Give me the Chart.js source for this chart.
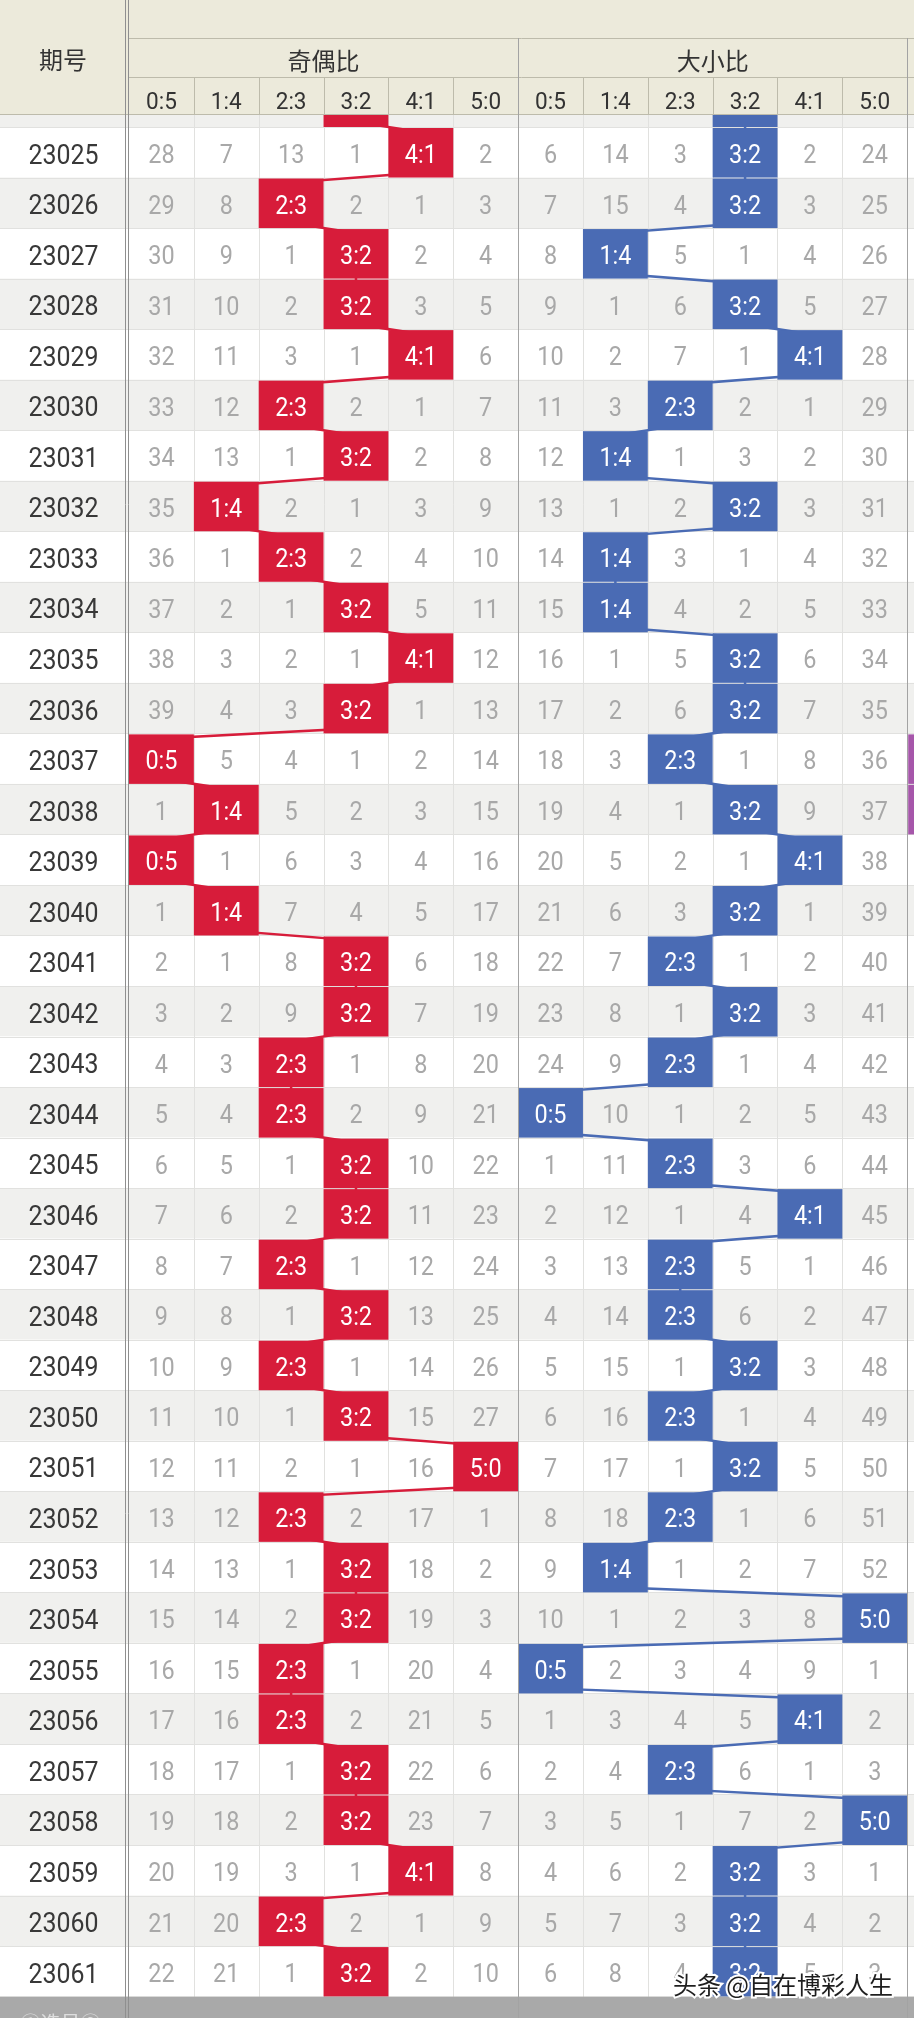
<!DOCTYPE html>
<html>
<head>
<meta charset="utf-8">
<script src="https://cdn.jsdelivr.net/npm/chart.js@4.4.1/dist/chart.umd.min.js"></script>
<style>
  html, body { margin: 0; padding: 0; background: #fff; }
  #wrap { width: 914px; height: 2018px; position: relative; }
</style>
</head>
<body>
<div id="wrap"><canvas id="trend"></canvas></div>
<script>
// ---- data ----
const periods = [
  '23025','23026','23027','23028','23029','23030','23031','23032','23033','23034',
  '23035','23036','23037','23038','23039','23040','23041','23042','23043','23044',
  '23045','23046','23047','23048','23049','23050','23051','23052','23053','23054',
  '23055','23056','23057','23058','23059','23060','23061'
];
const ratioLabels = ['0:5', '1:4', '2:3', '3:2', '4:1', '5:0'];
const groupTitles = ['奇偶比', '大小比'];

// omission counts per row, 0 = hit (cell shows the ratio label)
const oddEvenRows = [
  [28,7,13,1,0,2], [29,8,0,2,1,3], [30,9,1,0,2,4], [31,10,2,0,3,5], [32,11,3,1,0,6],
  [33,12,0,2,1,7], [34,13,1,0,2,8], [35,0,2,1,3,9], [36,1,0,2,4,10], [37,2,1,0,5,11],
  [38,3,2,1,0,12], [39,4,3,0,1,13], [0,5,4,1,2,14], [1,0,5,2,3,15], [0,1,6,3,4,16],
  [1,0,7,4,5,17], [2,1,8,0,6,18], [3,2,9,0,7,19], [4,3,0,1,8,20], [5,4,0,2,9,21],
  [6,5,1,0,10,22], [7,6,2,0,11,23], [8,7,0,1,12,24], [9,8,1,0,13,25], [10,9,0,1,14,26],
  [11,10,1,0,15,27], [12,11,2,1,16,0], [13,12,0,2,17,1], [14,13,1,0,18,2], [15,14,2,0,19,3],
  [16,15,0,1,20,4], [17,16,0,2,21,5], [18,17,1,0,22,6], [19,18,2,0,23,7], [20,19,3,1,0,8],
  [21,20,0,2,1,9], [22,21,1,0,2,10]
];
const bigSmallRows = [
  [6,14,3,0,2,24], [7,15,4,0,3,25], [8,0,5,1,4,26], [9,1,6,0,5,27], [10,2,7,1,0,28],
  [11,3,0,2,1,29], [12,0,1,3,2,30], [13,1,2,0,3,31], [14,0,3,1,4,32], [15,0,4,2,5,33],
  [16,1,5,0,6,34], [17,2,6,0,7,35], [18,3,0,1,8,36], [19,4,1,0,9,37], [20,5,2,1,0,38],
  [21,6,3,0,1,39], [22,7,0,1,2,40], [23,8,1,0,3,41], [24,9,0,1,4,42], [0,10,1,2,5,43],
  [1,11,0,3,6,44], [2,12,1,4,0,45], [3,13,0,5,1,46], [4,14,0,6,2,47], [5,15,1,0,3,48],
  [6,16,0,1,4,49], [7,17,1,0,5,50], [8,18,0,1,6,51], [9,0,1,2,7,52], [10,1,2,3,8,0],
  [0,2,3,4,9,1], [1,3,4,5,0,2], [2,4,0,6,1,3], [3,5,1,7,2,0], [4,6,2,0,3,1],
  [5,7,3,0,4,2], [6,8,4,0,5,3]
];
// row 23024 is cut off under the header, only its hits show
const prevOddEvenHit = 3;
const prevBigSmallHit = 3;
// the next group (off the right edge) only shows a sliver of its hits
const nextGroupHitPeriods = ['23037', '23038'];

// ---- layout ----
const W = 914, H = 2018;
const LEFT_W = 129, COL_W = 64.85;  // 期号 column, ratio column width
const TOP_H = 127, ROW_H = 50.53;   // top of first full row, row pitch
const HEAD_H = 115;
const RED = '#d71c3a', BLUE = '#4a6bb4', PURPLE = '#a656aa';
const DIGITS = 'Roboto, "Noto Sans", sans-serif';

function hitOf(row) { return row.indexOf(0); }

function trendPoints(rows, prevHit, offset) {
  const pts = [];
  const hits = [prevHit].concat(rows.map(hitOf));
  hits.forEach((h, i) => {
    const r = i - 1;
    pts.push({ x: offset + h + 0.5, y: r + 0.1 });
    pts.push({ x: offset + h + 0.5, y: r + 0.9 });
  });
  return pts;
}

// narrow, tall digits like the app's font: draw Roboto squeezed sideways
function digitText(ctx, text, x, cy, size, squeeze) {
  ctx.save();
  ctx.font = size + 'px ' + DIGITS;
  ctx.textBaseline = 'alphabetic';
  ctx.translate(x, cy + size * 0.355);
  ctx.scale(squeeze, 1);
  ctx.fillText(text, 0, 0);
  ctx.restore();
}

// background, row stripes and grid
const tableGrid = {
  id: 'tableGrid',
  beforeDatasetsDraw(chart) {
    const { ctx } = chart;
    const X = v => chart.scales.x.getPixelForValue(v);
    const Y = v => chart.scales.y.getPixelForValue(v);
    ctx.save();
    for (let r = -1; r <= periods.length; r++) {
      ctx.fillStyle = (r % 2 === 0) ? '#ffffff' : '#f0f0ee';
      ctx.fillRect(0, Y(r), W, Y(r + 1) - Y(r));
    }
    ctx.strokeStyle = '#e1e1df';
    ctx.lineWidth = 1;
    ctx.beginPath();
    for (let r = 0; r <= periods.length; r++) {
      const y = Math.round(Y(r)) + 0.5;
      ctx.moveTo(0, y); ctx.lineTo(W, y);
    }
    for (let c = 1; c < 12; c++) {
      if (c === 6) continue;
      const x = Math.round(X(c)) + 0.5;
      ctx.moveTo(x, 0); ctx.lineTo(x, H);
    }
    ctx.stroke();
    ctx.restore();
  }
};

// hit cells, numbers, header, bottom strip
const tableCells = {
  id: 'tableCells',
  afterDatasetsDraw(chart) {
    const { ctx } = chart;
    const X = v => chart.scales.x.getPixelForValue(v);
    const Y = v => chart.scales.y.getPixelForValue(v);
    ctx.save();
    ctx.textAlign = 'center';
    ctx.textBaseline = 'middle';

    const cell = (c, r, color) => {
      ctx.fillStyle = color;
      ctx.fillRect(X(c), Y(r) + 1, X(c + 1) - X(c), Y(r + 1) - Y(r) - 1);
    };
    cell(prevOddEvenHit, -1, RED);
    cell(6 + prevBigSmallHit, -1, BLUE);
    nextGroupHitPeriods.forEach(p => {
      const r = periods.indexOf(p);
      ctx.fillStyle = PURPLE;
      ctx.fillRect(X(12) + 1, Y(r) + 1, W - X(12), Y(r + 1) - Y(r) - 1);
    });

    periods.forEach((p, r) => {
      const cy = Y(r + 0.5) + 1.5;
      ctx.fillStyle = '#383838';
      digitText(ctx, p, LEFT_W / 2 - 1, cy, 28, 0.89);
      [[oddEvenRows, 0, RED], [bigSmallRows, 6, BLUE]].forEach(([rows, off, color]) => {
        rows[r].forEach((v, c) => {
          if (v === 0) {
            cell(off + c, r, color);
            ctx.fillStyle = '#fff';
            digitText(ctx, ratioLabels[c], X(off + c + 0.5), cy, 26, 0.9);
          } else {
            ctx.fillStyle = '#a8a8a8';
            digitText(ctx, String(v), X(off + c + 0.5), cy, 26, 0.9);
          }
        });
      });
    });

    // header
    ctx.fillStyle = '#eceadb';
    ctx.fillRect(0, 0, W, HEAD_H);
    ctx.strokeStyle = '#bdbbab';
    ctx.lineWidth = 1;
    ctx.beginPath();
    ctx.moveTo(X(0), 38.5); ctx.lineTo(W, 38.5);
    ctx.moveTo(X(0), 77.5); ctx.lineTo(W, 77.5);
    ctx.moveTo(0, HEAD_H - 0.5); ctx.lineTo(W, HEAD_H - 0.5);
    for (let c = 1; c <= 12; c++) {
      const x = Math.round(X(c)) + 0.5;
      ctx.moveTo(x, c % 6 === 0 ? 38 : 77); ctx.lineTo(x, HEAD_H);
    }
    ctx.stroke();
    ctx.fillStyle = '#333';
    ctx.font = '24px "Noto Sans CJK SC", sans-serif';
    ctx.fillText('期号', 63, 60);
    groupTitles.forEach((t, g) => ctx.fillText(t, X(g * 6 + 3), 61));
    for (let c = 0; c < 12; c++) digitText(ctx, ratioLabels[c % 6], X(c + 0.5), 100, 24, 0.94);

    // bottom strip
    const yb = Y(periods.length);
    ctx.fillStyle = '#a9a9a9';
    ctx.fillRect(0, yb, W, H - yb);
    ctx.fillStyle = '#dedede';
    ctx.font = '20px "Noto Sans CJK SC", sans-serif';
    ctx.fillText('①选号②', LEFT_W / 2 - 4, yb + 27);

    // double line and group separators
    ctx.strokeStyle = '#8f8f8f';
    ctx.beginPath();
    ctx.moveTo(X(0) - 3.5, 0); ctx.lineTo(X(0) - 3.5, H);
    ctx.moveTo(X(0) - 0.5, 0); ctx.lineTo(X(0) - 0.5, H);
    ctx.stroke();
    ctx.strokeStyle = '#a3a3a3';
    ctx.beginPath();
    [6, 12].forEach(c => {
      const x = Math.round(X(c)) + 0.5;
      ctx.moveTo(x, 38); ctx.lineTo(x, H);
    });
    ctx.stroke();

    // watermark
    ctx.font = '24px "Noto Sans CJK SC", sans-serif';
    ctx.textAlign = 'right';
    ctx.lineWidth = 4;
    ctx.strokeStyle = '#ffffff';
    ctx.strokeText('头条 @自在博彩人生', 893, 1985);
    ctx.fillStyle = '#1e1e1e';
    ctx.fillText('头条 @自在博彩人生', 893, 1985);
    ctx.restore();
  }
};

new Chart(document.getElementById('trend'), {
  type: 'scatter',
  data: {
    datasets: [
      { label: '奇偶比', data: trendPoints(oddEvenRows, prevOddEvenHit, 0),
        showLine: true, borderColor: RED, borderWidth: 2.5, pointRadius: 0, tension: 0 },
      { label: '大小比', data: trendPoints(bigSmallRows, prevBigSmallHit, 6),
        showLine: true, borderColor: BLUE, borderWidth: 2.5, pointRadius: 0, tension: 0 }
    ]
  },
  options: {
    responsive: true,
    maintainAspectRatio: false,
    animation: false,
    devicePixelRatio: 1,
    layout: { padding: 0 },
    plugins: { legend: { display: false }, tooltip: { enabled: false } },
    scales: {
      x: { type: 'linear', display: false, min: -LEFT_W / COL_W, max: (W - LEFT_W) / COL_W },
      y: { type: 'linear', display: false, reverse: true, min: -TOP_H / ROW_H, max: (H - TOP_H) / ROW_H }
    }
  },
  plugins: [tableGrid, tableCells]
});
</script>
</body>
</html>
